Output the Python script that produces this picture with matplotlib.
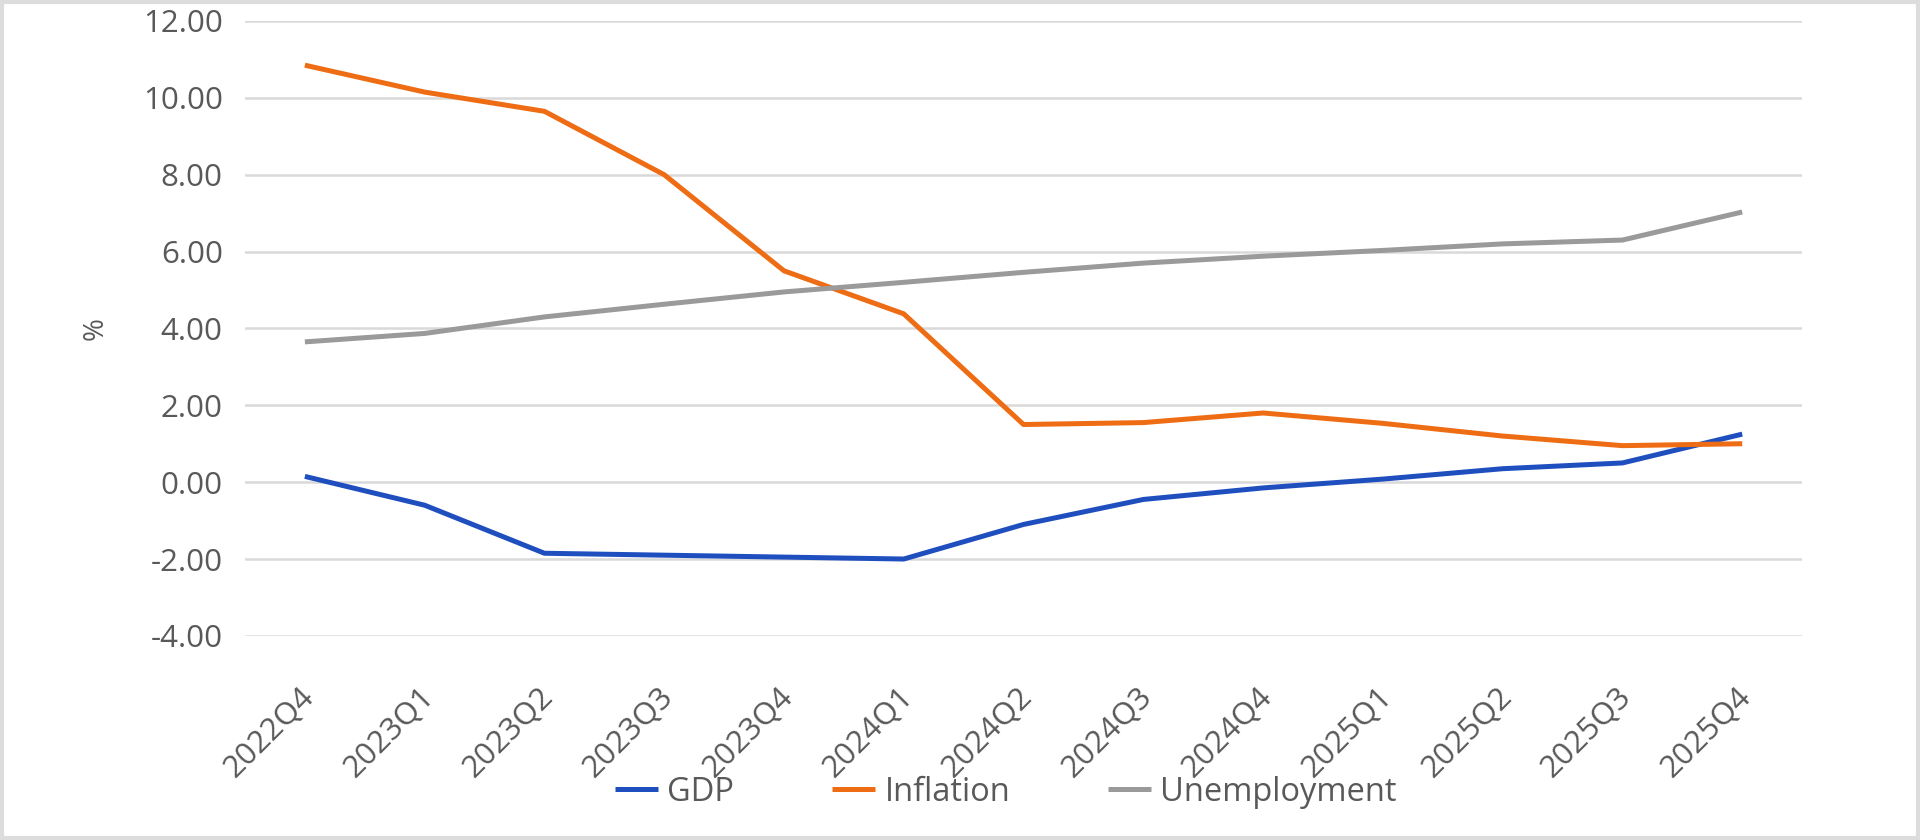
import matplotlib
matplotlib.use("Agg")
import matplotlib.pyplot as plt
from matplotlib.patches import Rectangle
import matplotlib.transforms as mtransforms

quarters = ["2022Q4", "2023Q1", "2023Q2", "2023Q3", "2023Q4", "2024Q1", "2024Q2",
            "2024Q3", "2024Q4", "2025Q1", "2025Q2", "2025Q3", "2025Q4"]
gdp = [0.15, -0.6, -1.85, -1.9, -1.95, -2.0, -1.1, -0.45, -0.15, 0.08, 0.35, 0.5, 1.25]
inflation = [10.85, 10.15, 9.65, 8.0, 5.5, 4.38, 1.5, 1.55, 1.8, 1.53, 1.2, 0.95, 1.0]
unemployment = [3.65, 3.87, 4.3, 4.63, 4.95, 5.2, 5.46, 5.7, 5.88, 6.03, 6.2, 6.3, 7.03]
yticks = [-4, -2, 0, 2, 4, 6, 8, 10, 12]

plt.rcParams['font.family'] = ['Open Sans', 'DejaVu Sans']

fig = plt.figure(figsize=(19.2, 8.4), dpi=100)
ax = fig.add_axes([0.1276, 0.243, 0.811, 0.732])

x = range(len(quarters))
ax.plot(x, gdp, color="#1f4fbf", lw=3.6, label="GDP", solid_capstyle="butt")
ax.plot(x, inflation, color="#ee6c14", lw=3.6, label="Inflation", solid_capstyle="butt")
ax.plot(x, unemployment, color="#9a9a9a", lw=3.6, label="Unemployment", solid_capstyle="butt")

ax.set_xlim(-0.5, len(quarters) - 0.5)
ax.set_ylim(-4, 12)
ax.set_yticks(yticks)
ax.set_yticklabels([f"{v:.2f}" for v in yticks])
ax.set_xticks(list(x))
ax.set_xticklabels(quarters, rotation=45, ha="right", rotation_mode="anchor")
ax.grid(axis="y", color="#d9d9d9", lw=1.8)
ax.set_axisbelow(True)
for s in ax.spines.values():
    s.set_visible(False)
ax.tick_params(axis="both", length=0, colors="#595959")
ax.tick_params(axis="y", pad=16, labelsize=22.5)
ax.tick_params(axis="x", pad=33, labelsize=22.5)
ax.set_ylabel("%", fontsize=20, color="#595959", labelpad=24)

# nudge rotated labels a little to the left
shift = mtransforms.ScaledTranslation(-6 / 100, 0, fig.dpi_scale_trans)
for lbl in ax.get_xticklabels():
    lbl.set_transform(lbl.get_transform() + shift)

fig.legend(loc="center", bbox_to_anchor=(0.524, 0.057), ncol=3, frameon=False,
           fontsize=23.5, labelcolor="#595959", handlelength=1.3, handletextpad=0.3,
           columnspacing=3.0)

fig.patches.append(Rectangle((0.001, 0.002), 0.998, 0.996, transform=fig.transFigure,
                             fill=False, edgecolor="#dcdcdc", lw=3))

fig.savefig("out.png", dpi=100)
